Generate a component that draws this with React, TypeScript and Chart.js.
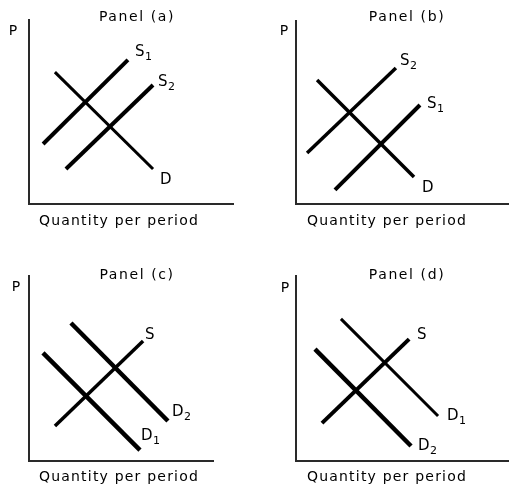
import React, { useEffect, useRef } from "react";
import { Chart, registerables } from "chart.js";

Chart.register(...registerables);

// ---- text ----
const panelTitles = ["Panel (a)", "Panel (b)", "Panel (c)", "Panel (d)"];
const yAxisLabel = "P";
const xAxisLabel = "Quantity per period";

// ---- data (axis units 0..100 on both axes) ----
// Panel (a): supply increases
const aS1X = [6.9, 48.5];
const aS1Y = [32.6, 78.3];
const aS2X = [18.1, 60.8];
const aS2Y = [19.0, 64.7];
const aDX = [12.7, 60.8];
const aDY = [71.7, 19.0];

// Panel (b): supply decreases
const bS2X = [5.2, 46.9];
const bS2Y = [27.9, 74.3];
const bS1X = [18.3, 58.2];
const bS1Y = [7.7, 54.1];
const bDX = [9.9, 55.4];
const bDY = [67.8, 14.8];

// Panel (c): demand increases
const cSX = [14.1, 62.0];
const cSY = [18.9, 64.9];
const cD2X = [22.8, 75.5];
const cD2Y = [74.6, 21.6];
const cD1X = [7.6, 60.3];
const cD1Y = [58.4, 5.9];

// Panel (d): demand decreases
const dSX = [12.2, 53.1];
const dSY = [20.5, 65.9];
const dD1X = [21.1, 66.7];
const dD1Y = [76.8, 24.3];
const dD2X = [8.9, 54.0];
const dD2Y = [60.5, 8.1];

type Curve = { base: string; sub: string; xs: number[]; ys: number[]; width: number; dx: number; dy: number };
type Panel = {
  left: number; top: number; w: number; h: number;
  pad: { left: number; top: number; right: number; bottom: number };
  title: string; titleX: number; titleY: number;
  pX: number; pY: number; qX: number; qY: number;
  curves: Curve[];
};

const panels: Panel[] = [
  {
    left: 0, top: 0, w: 254, h: 244,
    pad: { left: 29, top: 20, right: 21, bottom: 40 },
    title: panelTitles[0], titleX: 137, titleY: 21,
    pX: 13, pY: 35, qX: 119, qY: 225,
    curves: [
      { base: "S", sub: "1", xs: aS1X, ys: aS1Y, width: 4, dx: 7, dy: -7.5 },
      { base: "S", sub: "2", xs: aS2X, ys: aS2Y, width: 4, dx: 5, dy: -3 },
      { base: "D", sub: "", xs: aDX, ys: aDY, width: 3, dx: 7, dy: 11 },
    ],
  },
  {
    left: 254, top: 0, w: 255, h: 244,
    pad: { left: 42, top: 21, right: 0, bottom: 40 },
    title: panelTitles[1], titleX: 153, titleY: 21,
    pX: 30, pY: 35, qX: 133, qY: 225,
    curves: [
      { base: "S", sub: "2", xs: bS2X, ys: bS2Y, width: 3.5, dx: 4, dy: -7 },
      { base: "S", sub: "1", xs: bS1X, ys: bS1Y, width: 4, dx: 7, dy: -1 },
      { base: "D", sub: "", xs: bDX, ys: bDY, width: 3.5, dx: 8, dy: 11 },
    ],
  },
  {
    left: 0, top: 244, w: 254, h: 244,
    pad: { left: 29, top: 32, right: 41, bottom: 27 },
    title: panelTitles[2], titleX: 137, titleY: 35,
    pX: 16, pY: 47, qX: 119, qY: 237,
    curves: [
      { base: "S", sub: "", xs: cSX, ys: cSY, width: 3.5, dx: 2, dy: -6 },
      { base: "D", sub: "2", xs: cD2X, ys: cD2Y, width: 4.5, dx: 4, dy: -9 },
      { base: "D", sub: "1", xs: cD1X, ys: cD1Y, width: 4.5, dx: 1, dy: -14 },
    ],
  },
  {
    left: 254, top: 244, w: 255, h: 244,
    pad: { left: 42, top: 32, right: 0, bottom: 27 },
    title: panelTitles[3], titleX: 153, titleY: 35,
    pX: 31, pY: 48, qX: 133, qY: 237,
    curves: [
      { base: "S", sub: "", xs: dSX, ys: dSY, width: 4, dx: 8, dy: -4 },
      { base: "D", sub: "1", xs: dD1X, ys: dD1Y, width: 3, dx: 9, dy: 0 },
      { base: "D", sub: "2", xs: dD2X, ys: dD2Y, width: 4.5, dx: 7, dy: 0 },
    ],
  },
];

const FONT = '"DejaVu Sans", "Liberation Sans", sans-serif';
const TEXT = "#000";

function makeTextPlugin(p: Panel) {
  return {
    id: "panelText",
    afterDraw(chart: any) {
      const ctx = chart.ctx as CanvasRenderingContext2D;
      ctx.save();
      ctx.fillStyle = TEXT;
      ctx.font = `14px ${FONT}`;
      ctx.textBaseline = "alphabetic";
      ctx.textAlign = "center";
      (ctx as any).letterSpacing = "1.6px";
      ctx.fillText(p.title, p.titleX, p.titleY);
      (ctx as any).letterSpacing = "1.2px";
      ctx.fillText(xAxisLabel, p.qX, p.qY);
      (ctx as any).letterSpacing = "0px";
      ctx.fillText(yAxisLabel, p.pX, p.pY);
      // curve labels
      const xs = chart.scales.x;
      const ys = chart.scales.y;
      ctx.textAlign = "left";
      ctx.textBaseline = "middle";
      p.curves.forEach((c) => {
        const n = c.xs.length - 1;
        const ex = xs.getPixelForValue(c.xs[n]);
        const ey = ys.getPixelForValue(c.ys[n]);
        const lx = ex + c.dx;
        const ly = ey + c.dy;
        ctx.font = `15px ${FONT}`;
        ctx.fillText(c.base, lx, ly);
        const w = ctx.measureText(c.base).width;
        if (c.sub) {
          ctx.font = `11px ${FONT}`;
          ctx.fillText(c.sub, lx + w + 0.5, ly + 5);
        }
      });
      ctx.restore();
    },
  };
}

function PanelChart({ p }: { p: Panel }) {
  const ref = useRef<HTMLCanvasElement>(null);
  useEffect(() => {
    if (!ref.current) return;
    const chart = new Chart(ref.current, {
      type: "scatter",
      data: {
        datasets: p.curves.map((c) => ({
          label: c.base + c.sub,
          data: c.xs.map((x, i) => ({ x, y: c.ys[i] })),
          showLine: true,
          borderColor: "#000",
          backgroundColor: "#000",
          borderWidth: c.width,
          borderCapStyle: "butt" as const,
          pointRadius: 0,
          pointHoverRadius: 0,
        })),
      },
      options: {
        animation: false,
        responsive: false,
        maintainAspectRatio: false,
        events: [],
        layout: { padding: p.pad },
        plugins: {
          legend: { display: false },
          tooltip: { enabled: false },
          title: { display: false },
        },
        scales: {
          x: {
            type: "linear",
            min: 0,
            max: 100,
            grid: { display: false, drawTicks: false },
            ticks: { display: false },
            border: { display: true, color: "#2a2a2a", width: 2 },
          },
          y: {
            type: "linear",
            min: 0,
            max: 100,
            grid: { display: false, drawTicks: false },
            ticks: { display: false },
            border: { display: true, color: "#2a2a2a", width: 2 },
          },
        },
      },
      plugins: [makeTextPlugin(p)],
    });
    return () => chart.destroy();
  }, [p]);
  return (
    <canvas
      ref={ref}
      width={p.w}
      height={p.h}
      style={{ position: "absolute", left: p.left, top: p.top, width: p.w, height: p.h }}
    />
  );
}

export default function App() {
  return (
    <div style={{ position: "fixed", left: 0, top: 0, width: 509, height: 488, background: "#fff" }}>
      {panels.map((p, i) => (
        <PanelChart key={i} p={p} />
      ))}
    </div>
  );
}
